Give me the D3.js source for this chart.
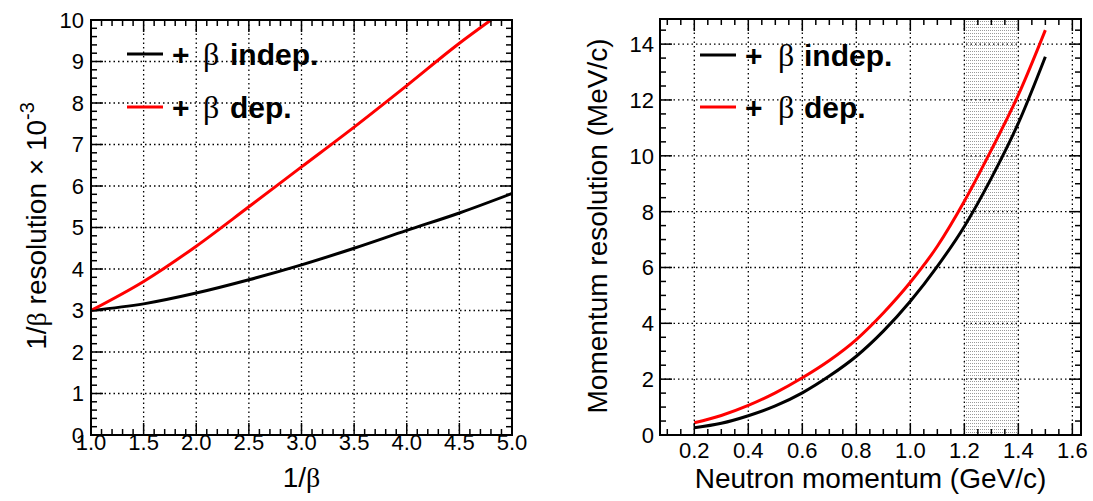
<!DOCTYPE html>
<html><head><meta charset="utf-8">
<script src="https://cdn.jsdelivr.net/npm/d3@7"></script>
<style>
html,body{margin:0;padding:0;background:#fff;}
svg text{font-family:"Liberation Sans",Arial,Helvetica,sans-serif;}
</style></head>
<body>
<svg id="c" width="1093" height="501"></svg>
<script>
// ---------- DATA ----------
// Left panel: 1/beta resolution (x 10^-3) vs 1/beta
const leftX        = [1.0, 1.5, 2.0, 2.5, 3.0, 3.5, 4.0, 4.5, 5.0];
const leftIndep    = [3.0, 3.16, 3.42, 3.74, 4.1, 4.5, 4.93, 5.35, 5.82];
const leftDepX     = [1.0, 1.5, 2.0, 2.5, 3.0, 3.5, 4.0, 4.5, 4.8];
const leftDep      = [3.0, 3.7, 4.55, 5.5, 6.46, 7.42, 8.42, 9.44, 10.0];
const leftXTicks   = ["1.0","1.5","2.0","2.5","3.0","3.5","4.0","4.5","5.0"];
const leftYTicks   = ["0","1","2","3","4","5","6","7","8","9","10"];

// Right panel: momentum resolution (MeV/c) vs neutron momentum (GeV/c)
const rightX       = [0.2, 0.3, 0.4, 0.5, 0.6, 0.7, 0.8, 0.9, 1.0, 1.1, 1.2, 1.3, 1.4, 1.5];
const rightIndep   = [0.26, 0.42, 0.69, 1.04, 1.51, 2.11, 2.82, 3.72, 4.79, 6.04, 7.47, 9.2, 11.17, 13.55];
const rightDep     = [0.44, 0.70, 1.06, 1.51, 2.05, 2.67, 3.42, 4.37, 5.47, 6.76, 8.37, 10.21, 12.18, 14.5];
const rightXTicks  = ["0.2","0.4","0.6","0.8","1.0","1.2","1.4","1.6"];
const rightYTicks  = ["0","2","4","6","8","10","12","14"];
const bandRange    = [1.2, 1.4];

const legendLabels = ["indep.", "dep."];
const seriesColors = ["#000000", "#ff0000"];

// ---------- DRAW ----------
const svg = d3.select("#c");
const defs = svg.append("defs");
const pat = defs.append("pattern").attr("id","dots").attr("patternUnits","userSpaceOnUse")
  .attr("width",2).attr("height",3);
pat.append("rect").attr("x",0).attr("y",0).attr("width",1).attr("height",1).attr("fill","#9a9a9a");

function panel(cfg){
  const g = svg.append("g");
  const x = d3.scaleLinear().domain(cfg.xDom).range([cfg.box.x0, cfg.box.x1]);
  const y = d3.scaleLinear().domain(cfg.yDom).range([cfg.box.y1, cfg.box.y0]);
  const b = cfg.box;
  const clipId = "clip"+cfg.id;
  defs.append("clipPath").attr("id",clipId).append("rect")
    .attr("x",b.x0).attr("y",b.y0).attr("width",b.x1-b.x0).attr("height",b.y1-b.y0);

  if (cfg.band) {
    g.append("rect").attr("x",x(cfg.band[0])).attr("y",b.y0)
      .attr("width",x(cfg.band[1])-x(cfg.band[0])).attr("height",b.y1-b.y0)
      .attr("fill","url(#dots)");
  }
  // grid
  const xMaj = cfg.xTicks.map(Number), yMaj = cfg.yTicks.map(Number);
  g.selectAll(null).data(xMaj).enter().append("line")
    .attr("x1",d=>x(d)).attr("x2",d=>x(d)).attr("y1",b.y0).attr("y2",b.y1)
    .attr("stroke","#000").attr("stroke-width",1.3).attr("stroke-dasharray","1.5,3");
  g.selectAll(null).data(yMaj).enter().append("line")
    .attr("y1",d=>y(d)).attr("y2",d=>y(d)).attr("x1",b.x0).attr("x2",b.x1)
    .attr("stroke","#000").attr("stroke-width",1.3).attr("stroke-dasharray","1.5,3");

  // curves
  const line = d3.line().x(d=>x(d[0])).y(d=>y(d[1])).curve(d3.curveMonotoneX);
  cfg.series.forEach((s,i)=>{
    g.append("path").datum(s.x.map((v,k)=>[v,s.y[k]]))
      .attr("d",line).attr("fill","none").attr("stroke",seriesColors[i])
      .attr("stroke-width",3).attr("clip-path","url(#"+clipId+")");
  });

  // ticks (all four sides, inward)
  const tk = g.append("g").attr("stroke","#000").attr("stroke-width",1.5);
  const minX = d3.range(Math.ceil(cfg.xDom[0]/cfg.xMin - 1e-6), Math.floor(cfg.xDom[1]/cfg.xMin + 1e-6)+1).map(k=>k*cfg.xMin);
  const minY = d3.range(Math.ceil(cfg.yDom[0]/cfg.yMin - 1e-6), Math.floor(cfg.yDom[1]/cfg.yMin + 1e-6)+1).map(k=>k*cfg.yMin);
  const isMaj = (v, arr) => arr.some(m=>Math.abs(m-v)<1e-6);
  minX.forEach(v=>{
    const L = isMaj(v,xMaj)?12:6;
    tk.append("line").attr("x1",x(v)).attr("x2",x(v)).attr("y1",b.y1).attr("y2",b.y1-L);
    tk.append("line").attr("x1",x(v)).attr("x2",x(v)).attr("y1",b.y0).attr("y2",b.y0+L);
  });
  minY.forEach(v=>{
    const L = isMaj(v,yMaj)?12:6;
    tk.append("line").attr("y1",y(v)).attr("y2",y(v)).attr("x1",b.x0).attr("x2",b.x0+L);
    tk.append("line").attr("y1",y(v)).attr("y2",y(v)).attr("x1",b.x1).attr("x2",b.x1-L);
  });
  // frame
  g.append("rect").attr("x",b.x0).attr("y",b.y0).attr("width",b.x1-b.x0).attr("height",b.y1-b.y0)
    .attr("fill","none").attr("stroke","#000").attr("stroke-width",2);

  // tick labels
  g.selectAll(null).data(cfg.xTicks).enter().append("text")
    .attr("x",d=>x(+d)).attr("y",cfg.xLabBase).attr("text-anchor","middle")
    .attr("font-size",cfg.tickFont).text(d=>d);
  g.selectAll(null).data(cfg.yTicks).enter().append("text")
    .attr("x",cfg.yLabRight).attr("y",d=>y(+d)).attr("dy","0.36em").attr("text-anchor","end")
    .attr("font-size",cfg.tickFont).text(d=>d);

  // legend
  cfg.series.forEach((s,i)=>{
    const ly = cfg.leg.y[i], lx = cfg.leg.x;
    g.append("line").attr("x1",lx).attr("x2",lx+36).attr("y1",ly).attr("y2",ly)
      .attr("stroke",seriesColors[i]).attr("stroke-width",3);
    const t = g.append("text").attr("x",lx+45).attr("y",ly+11).attr("font-size",30);
    t.append("tspan").attr("font-weight","bold").text("+");
    t.append("tspan").attr("x",lx+cfg.leg.bx).attr("font-size",32).attr("font-family","'Liberation Serif','DejaVu Serif',serif").text("β");
    t.append("tspan").attr("x",lx+cfg.leg.tx).attr("font-weight","bold").text(legendLabels[i]);
  });
  return {g,x,y};
}

const left = panel({
  id:"L", box:{x0:91,x1:512,y0:20,y1:435}, xDom:[1,5], yDom:[0,10],
  xTicks:leftXTicks, yTicks:leftYTicks, xMin:0.1, yMin:0.2,
  xLabBase:450, yLabRight:84, tickFont:22,
  series:[{x:leftX,y:leftIndep},{x:leftDepX,y:leftDep}],
  leg:{x:127,y:[54,107],bx:76,tx:103}
});
const right = panel({
  id:"R", box:{x0:660,x1:1081,y0:19,y1:435}, xDom:[0.073,1.632], yDom:[0,14.9],
  xTicks:rightXTicks, yTicks:rightYTicks, xMin:0.05, yMin:0.5,
  xLabBase:458, yLabRight:654, tickFont:22, band:bandRange,
  series:[{x:rightX,y:rightIndep},{x:rightX,y:rightDep}],
  leg:{x:700,y:[55,107],bx:78,tx:104}
});

// axis titles
const tf = 28;
const lt = svg.append("text").attr("x",(91+512)/2).attr("y",487).attr("text-anchor","middle").attr("font-size",tf);
lt.append("tspan").text("1/");
lt.append("tspan").attr("font-family","'Liberation Serif','DejaVu Serif',serif").text("β");

svg.append("text").attr("x",(660+1081)/2).attr("y",488).attr("text-anchor","middle")
  .attr("font-size",tf).text("Neutron momentum (GeV/c)");

const ly = svg.append("text").attr("transform","translate(46,226) rotate(-90)")
  .attr("text-anchor","middle").attr("font-size",tf);
ly.append("tspan").text("1/");
ly.append("tspan").attr("font-family","'Liberation Serif','DejaVu Serif',serif").text("β");
ly.append("tspan").text(" resolution × 10");
ly.append("tspan").attr("font-size",20).attr("dy",-12).text("-3");

svg.append("text").attr("transform","translate(607,226) rotate(-90)")
  .attr("text-anchor","middle").attr("font-size",tf).text("Momentum resolution (MeV/c)");
</script>
</body></html>
